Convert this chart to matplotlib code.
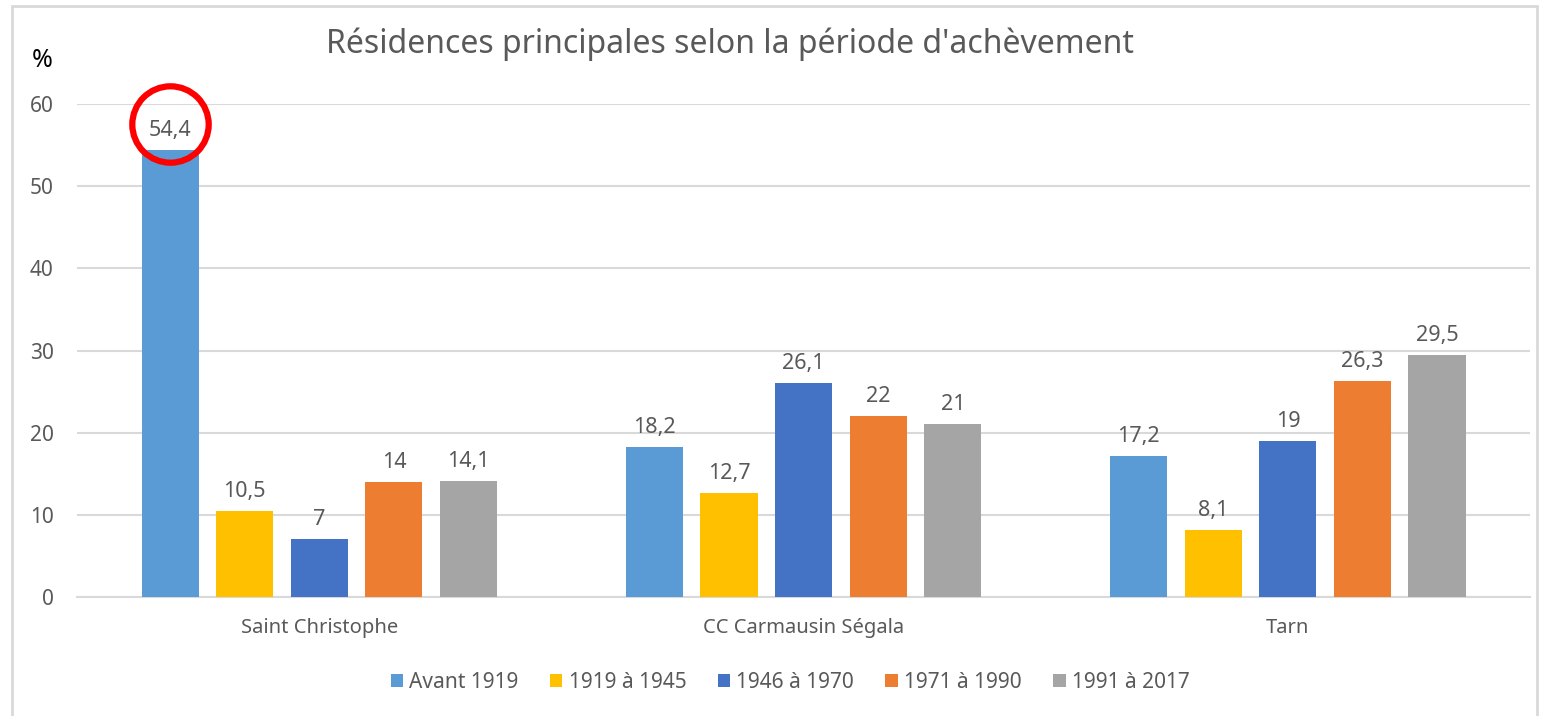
import numpy as np
import matplotlib.pyplot as plt
from matplotlib.patches import Rectangle
from matplotlib.transforms import offset_copy

# data
zones = ['Saint Christophe', 'CC Carmausin Ségala', 'Tarn']
periods = ['Avant 1919', '1919 à 1945', '1946 à 1970', '1971 à 1990', '1991 à 2017']
avant_1919 = [54.4, 18.2, 17.2]
p1919_1945 = [10.5, 12.7, 8.1]
p1946_1970 = [7, 26.1, 19]
p1971_1990 = [14, 22, 26.3]
p1991_2017 = [14.1, 21, 29.5]
series = [avant_1919, p1919_1945, p1946_1970, p1971_1990, p1991_2017]
colors = ['#5B9BD5', '#FFC000', '#4472C4', '#ED7D31', '#A5A5A5']

plt.rcParams['font.family'] = ['Noto Sans', 'DejaVu Sans']
TXT = '#595959'
GRID = '#D9D9D9'

fig = plt.figure(figsize=(15.43, 7.16), dpi=100)
ax = fig.add_axes([0.050, 0.1662, 0.9416, 0.6885])

x = np.arange(len(zones))
step = 0.154
width = 0.118


def fmt(v):
    s = ('%.1f' % v).rstrip('0').rstrip('.')
    return s.replace('.', ',')


for j, (vals, col, name) in enumerate(zip(series, colors, periods)):
    pos = x + (j - 2) * step
    ax.bar(pos, vals, width, color=col, label=name, zorder=3)
    for px, v in zip(pos, vals):
        ax.annotate(fmt(v), (px, v), xytext=(0, 6.5), textcoords='offset points',
                    ha='center', va='bottom', fontsize=15.5, color=TXT)

# red circle around the highlighted value
hx = x[0] - 2 * step
hy = avant_1919[0]
circ_tr = offset_copy(ax.transData, fig=fig, x=0, y=19, units='points')
ax.plot([hx], [hy], marker='o', markersize=55, markerfacecolor='none',
        markeredgecolor='#FF0000', markeredgewidth=4.5, transform=circ_tr,
        clip_on=False, zorder=5)

ax.set_xlim(-0.5, 2.5)
ax.set_ylim(0, 60)
ax.set_yticks(range(0, 61, 10))
ax.set_xticks(x)
ax.set_xticklabels(zones)
ax.yaxis.grid(True, color=GRID, linewidth=1.5, zorder=0)
ax.tick_params(axis='y', length=0, pad=17, labelsize=15, labelcolor=TXT)
ax.tick_params(axis='x', length=0, pad=15, labelsize=14.5, labelcolor=TXT)
for s in ['top', 'right', 'left']:
    ax.spines[s].set_visible(False)
ax.spines['bottom'].set_color(GRID)
ax.spines['bottom'].set_linewidth(1.5)

fig.text(0.473, 0.938, "Résidences principales selon la période d'achèvement",
         ha='center', va='center', fontsize=23, color=TXT)
fig.text(0.0275, 0.916, '%', ha='center', va='center', fontsize=18, color='black')

fig.legend(loc='center', bbox_to_anchor=(0.512, 0.047), ncol=5, frameon=False,
           fontsize=15, handlelength=0.6, handleheight=0.6, handletextpad=0.3,
           columnspacing=1.5, labelcolor=TXT)

# outer chart border
fig.patches.append(Rectangle((12 / 1543, -0.05), 1525 / 1543, 1.05 - 6 / 716,
                             transform=fig.transFigure, fill=False,
                             edgecolor=GRID, linewidth=2))

fig.savefig('out.png', dpi=100)
